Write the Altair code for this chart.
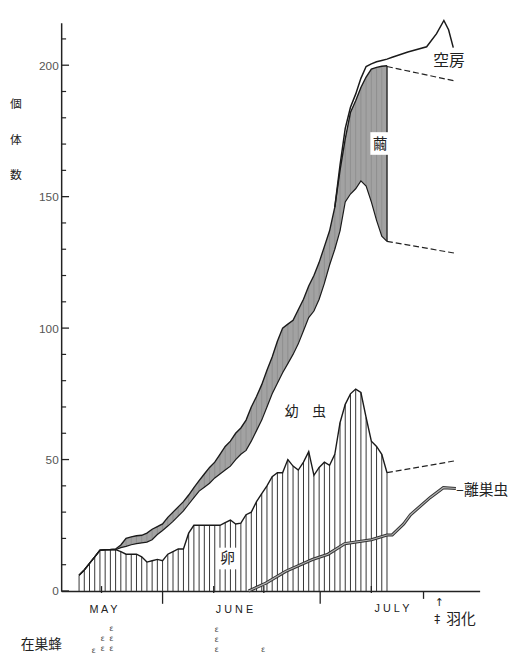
import altair as alt
import pandas as pd

# ---- data (day numbers: May 1 = 1, June 1 = 32, July 1 = 62) ----
DAYS = list(range(16, 76))
EGGS = [6, 8, 10.5, 13, 15.5, 15.7, 15.7, 15.7, 15, 14,
        14, 14, 13, 11, 11.5, 12, 11.5, 14, 15, 16,
        16, 22, 25, 25, 25, 25, 25, 25, 26, 27,
        25.5, 25.8, 29, 30, 34, 37, 40, 43.5, 45, 45,
        50, 47.5, 46, 49, 53, 44, 47, 49, 47.8, 52,
        64, 71, 75, 76.8, 75.5, 66, 57, 55, 52, 45]
LARVAE_TOP = [6, 8, 10.5, 13, 15.5, 15.7, 15.7, 15.7, 16.5, 17,
              17.6, 18, 18.3, 18.6, 19.5, 21.5, 23, 24.7, 26.5, 28.5,
              30.5, 33, 35.5, 38, 39.5, 41, 43, 44.5, 46, 47.5,
              50, 52, 53.5, 57, 61, 65, 70, 75, 79, 83,
              86.5, 90, 94, 99, 104, 106.5, 111, 117, 124, 130,
              137, 148, 151, 153, 156, 154, 148, 141, 135, 133]
COCOON_TOP = [6, 8, 10.5, 13, 15.5, 15.7, 15.8, 16, 17.5, 20,
              20.6, 21, 21.2, 22, 23.5, 24.5, 25.5, 28, 30, 32,
              34, 36.5, 39.3, 42, 44.5, 47, 49, 52, 55, 57,
              60, 62, 65, 70, 74, 78.5, 84, 89, 95, 100,
              101.5, 103, 107, 111, 116, 120, 125, 131, 137, 146,
              160, 172, 182, 186.5, 191.5, 195.5, 198.5, 199.2, 199.6, 199.8]
TOTAL_DAYS = [65, 66, 67, 68, 69, 70, 71, 72, 73, 74, 75, 76, 79, 82.6, 84.5, 85.9, 86.8, 87.7]
TOTAL_CELLS = [146, 162, 176, 184, 189, 195, 199.5, 200.5, 201.3, 201.8, 202.3, 203, 205, 207, 212, 217, 213.5, 206.7]
LEFT_DAYS = [48.5, 51.8, 55.6, 60.7, 63.7, 66.9, 72, 75, 76, 78.2, 79.5, 83.3, 85.8, 88.2]
LEFT_NEST = [0, 3, 7.5, 12, 14, 18, 19.5, 21.3, 21.3, 25.5, 29, 35.6, 39.3, 39]
DASH_DAYS = [75, 88]
EGG_DASH = [45, 49.5]
LARVAE_DASH = [133, 128.5]
COCOON_DASH = [199.5, 194]
Y_LABELS = [0, 50, 100, 150, 200]
Y_MINOR = [v for v in range(10, 211, 10) if v % 50 != 0]
X_LONG_TICKS = [32, 62.2]
X_MID_TICKS = [82]
X_SHORT_TICKS = [20.3, 41.8, 51.4, 72]

W, H = 425, 577
xs = alt.Scale(domain=[12.57, 92.75], nice=False, zero=False)
ys = alt.Scale(domain=[0, 216.1], nice=False, zero=False)
JP = "Noto Sans CJK JP"
LAT = "Liberation Sans"

main = pd.DataFrame({"day": DAYS, "egg": EGGS, "larva": LARVAE_TOP, "cocoon": COCOON_TOP})
base = alt.Chart(main)

band = base.mark_area(color="#a2a2a2", opacity=1).encode(
    x=alt.X("day:Q", scale=xs, axis=alt.Axis(title=None, labels=False, ticks=False, grid=False,
                                             domainColor="#222", domainWidth=1.5)),
    y=alt.Y("larva:Q", scale=ys, axis=alt.Axis(values=Y_LABELS, title=None, ticks=False, grid=False,
                                               labelFont=LAT, labelFontSize=12, labelColor="#555",
                                               labelPadding=3, domainColor="#222", domainWidth=1.5)),
    y2="cocoon:Q",
)
band_hatch = base.mark_rule(color="#888888", strokeWidth=0.7).encode(
    x=alt.X("day:Q", scale=xs), y=alt.Y("larva:Q", scale=ys), y2="cocoon:Q")
egg_hatch = base.mark_rule(color="#333", strokeWidth=1).encode(
    x=alt.X("day:Q", scale=xs), y=alt.Y("egg:Q", scale=ys), y2=alt.datum(0))
close_rule = base.transform_filter(alt.datum.day == DAYS[-1]).mark_rule(color="#222", strokeWidth=1.3).encode(
    x=alt.X("day:Q", scale=xs), y=alt.Y("larva:Q", scale=ys), y2="cocoon:Q")


def line(col, width=1.4, color="#1a1a1a"):
    return base.mark_line(color=color, strokeWidth=width).encode(
        x=alt.X("day:Q", scale=xs), y=alt.Y(f"{col}:Q", scale=ys))


total = alt.Chart(pd.DataFrame({"day": TOTAL_DAYS, "v": TOTAL_CELLS})).mark_line(
    color="#1a1a1a", strokeWidth=1.5).encode(x=alt.X("day:Q", scale=xs), y=alt.Y("v:Q", scale=ys))

left_df = pd.DataFrame({"day": LEFT_DAYS, "v": LEFT_NEST})
left_outer = alt.Chart(left_df).mark_line(color="#333", strokeWidth=3.2).encode(
    x=alt.X("day:Q", scale=xs), y=alt.Y("v:Q", scale=ys))
left_inner = alt.Chart(left_df).mark_line(color="#b0b0b0", strokeWidth=1.2).encode(
    x=alt.X("day:Q", scale=xs), y=alt.Y("v:Q", scale=ys))

dash_df = pd.DataFrame({"day": DASH_DAYS, "egg": EGG_DASH, "larva": LARVAE_DASH, "cocoon": COCOON_DASH})
dashes = [alt.Chart(dash_df).mark_line(color="#222", strokeWidth=1.2, strokeDash=[6, 3]).encode(
    x=alt.X("day:Q", scale=xs), y=alt.Y(f"{c}:Q", scale=ys)) for c in ["egg", "larva", "cocoon"]]

# axis ticks
y_major = alt.Chart(pd.DataFrame({"v": Y_LABELS})).mark_rule(color="#222", strokeWidth=1.3).encode(
    y=alt.Y("v:Q", scale=ys), x=alt.value(0), x2=alt.value(8))
y_minor = alt.Chart(pd.DataFrame({"v": Y_MINOR})).mark_rule(color="#222", strokeWidth=1.2).encode(
    y=alt.Y("v:Q", scale=ys), x=alt.value(0), x2=alt.value(5))
x_long = alt.Chart(pd.DataFrame({"t": X_LONG_TICKS})).mark_rule(color="#222", strokeWidth=1.3).encode(
    x=alt.X("t:Q", scale=xs), y=alt.value(H), y2=alt.value(H + 13))
x_mid = alt.Chart(pd.DataFrame({"t": X_MID_TICKS})).mark_rule(color="#222", strokeWidth=1.3).encode(
    x=alt.X("t:Q", scale=xs), y=alt.value(H), y2=alt.value(H + 8))
x_short = alt.Chart(pd.DataFrame({"t": X_SHORT_TICKS})).mark_rule(color="#222", strokeWidth=1.3).encode(
    x=alt.X("t:Q", scale=xs), y=alt.value(H - 5), y2=alt.value(H + 2))


def label(text, x, y, size=14, font=JP, align="center", color="#222"):
    return alt.Chart(pd.DataFrame({"t": [text]})).mark_text(
        align=align, baseline="middle", fontSize=size, font=font, color=color).encode(
        x=alt.value(x), y=alt.value(y), text="t:N")


def box(x0, x1, y0, y1):
    return alt.Chart(pd.DataFrame({"a": [0]})).mark_rect(color="white", opacity=1).encode(
        x=alt.value(x0), x2=alt.value(x1), y=alt.value(y0), y2=alt.value(y1))


texts = [
    label("個", -46, 82, 12), label("体", -46, 119, 12), label("数", -46, 155, 12),
    label("空房", 394, 39, 16),
    box(314, 333, 111, 134), label("繭", 324, 123, 15),
    label("幼\u3000虫", 248, 395, 14),
    box(159, 179, 533, 555), label("卵", 169, 544, 15),
    label("–離巣虫", 401, 474, 15, align="left"),
    label("M A Y", 43, 596, 11, font=LAT), label("J U N E", 176, 596, 11, font=LAT),
    label("J U L Y", 336, 595, 11, font=LAT),
    label("↑", 384, 589, 11, font="DejaVu Sans"),
    label("‡", 382, 606, 12, font="DejaVu Sans"),
    label("羽化", 406, 606, 15),
    label("在巣蜂", -20, 632, 14),
]
for gx, gy in [(33, 638), (42, 626), (42, 636), (51, 616), (51, 626), (51, 636),
               (158, 617), (158, 627), (158, 637), (205, 637)]:
    texts.append(label("ε", gx, gy, 8, font="DejaVu Sans", color="#444"))

layers = [band, band_hatch, egg_hatch, close_rule,
          line("egg"), line("larva", 1.2), line("cocoon"), total,
          left_outer, left_inner] + dashes + [y_major, y_minor, x_long, x_mid, x_short] + texts

chart = alt.layer(*layers).properties(
    width=W, height=H,
    autosize=alt.AutoSizeParams(type="none"),
    padding={"left": 54, "top": 10, "right": 41, "bottom": 67},
).configure_view(stroke=None)

chart.save("out.html", embed_options={"renderer": "svg", "actions": False})
